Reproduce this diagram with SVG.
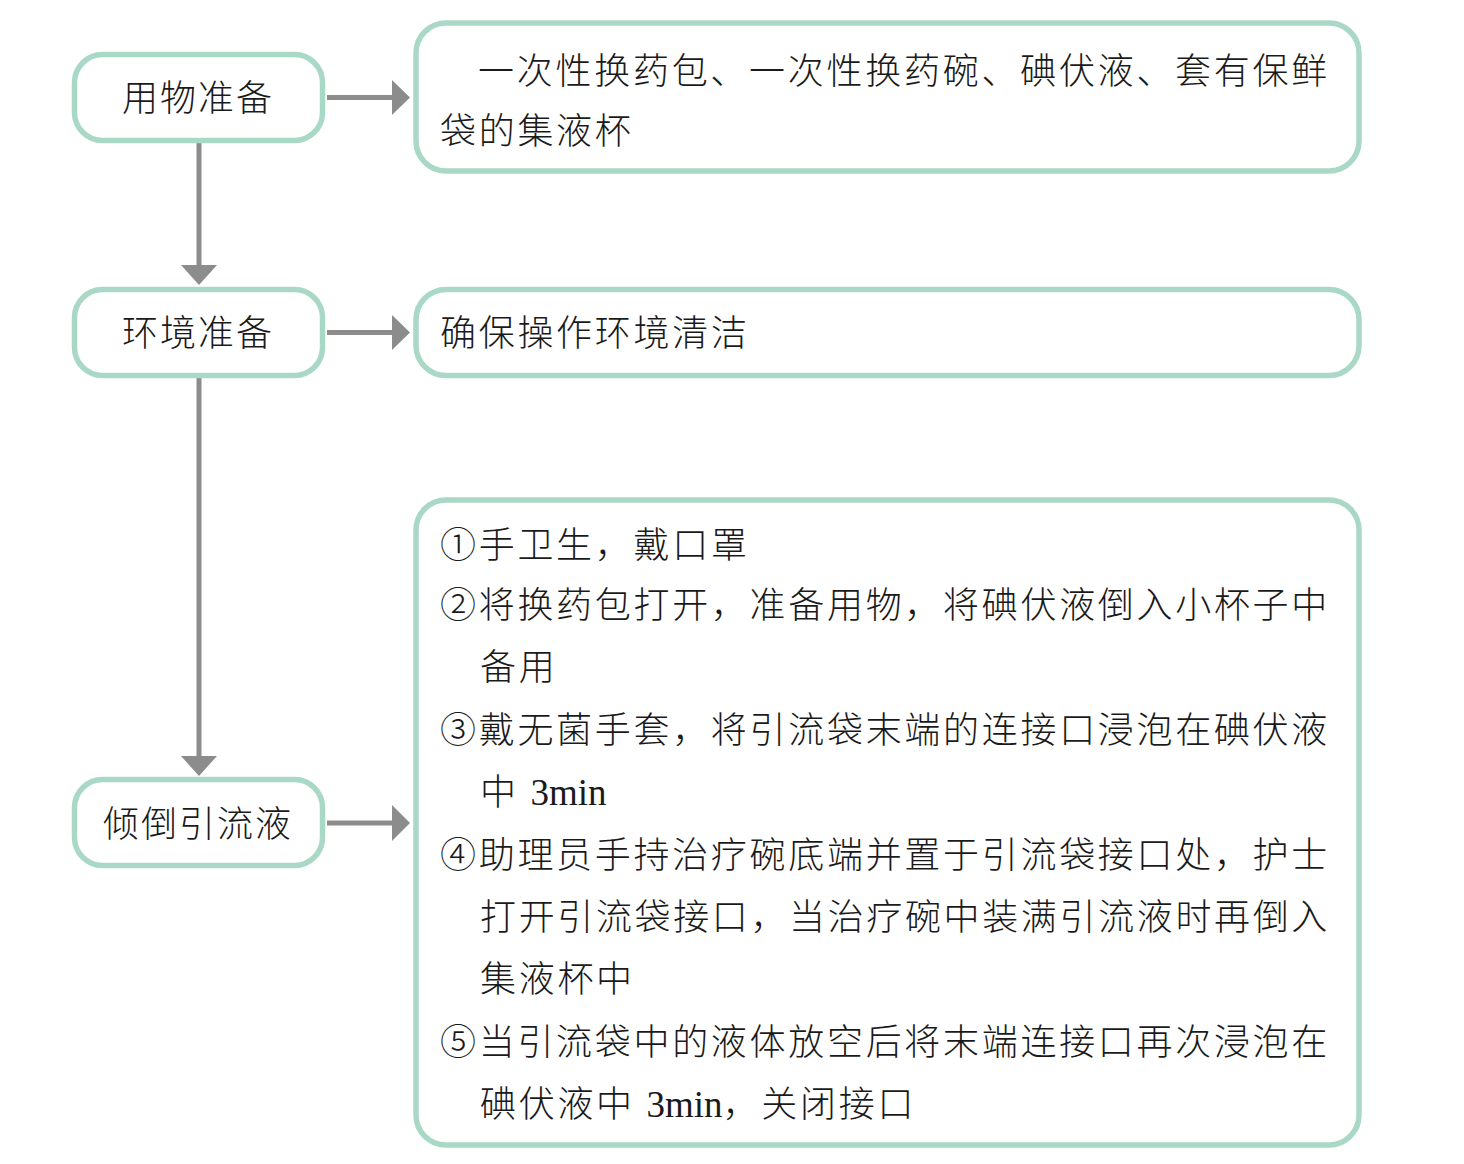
<svg xmlns="http://www.w3.org/2000/svg" width="1464" height="1164" viewBox="0 0 1464 1164">
<defs>
<style>
.box{fill:#ffffff;stroke:#a9d9c6;stroke-width:5.5}
.t{font-family:"Liberation Serif","Noto Sans CJK SC",serif;font-size:36px;font-weight:300;fill:#1a1a1a;letter-spacing:2.7px}
.lt{font-family:"Liberation Serif","Noto Sans CJK SC",serif;font-size:36px;font-weight:300;fill:#1a1a1a;letter-spacing:2px;text-anchor:middle}
.en{letter-spacing:0px;font-size:37px}
.ln{stroke:#8c8c8c;stroke-width:5;fill:none}
.ah{fill:#8c8c8c}
</style>
</defs>
<rect width="1464" height="1164" fill="#ffffff"/>
<g id="connectors">
<line class="ln" x1="327" y1="97.5" x2="394" y2="97.5"/>
<polygon class="ah" points="392,80 410,97.5 392,115"/>
<line class="ln" x1="327" y1="332.5" x2="394" y2="332.5"/>
<polygon class="ah" points="392,315 410,332.5 392,350"/>
<line class="ln" x1="327" y1="823" x2="394" y2="823"/>
<polygon class="ah" points="392,805 410,823 392,841"/>
<line class="ln" x1="199" y1="142" x2="199" y2="267"/>
<polygon class="ah" points="181,265 217,265 199,285"/>
<line class="ln" x1="199" y1="377" x2="199" y2="758"/>
<polygon class="ah" points="181,756 217,756 199,776"/>
</g>
<g id="n1">
<rect class="box" x="74.5" y="54.5" width="248" height="86" rx="28"/>
<text class="lt" x="198" y="111">用物准备</text>
</g>
<g id="n2">
<rect class="box" x="74.5" y="289.5" width="248" height="86" rx="28"/>
<text class="lt" x="198" y="346">环境准备</text>
</g>
<g id="n3">
<rect class="box" x="74.5" y="779.5" width="248" height="86" rx="28"/>
<text class="lt" x="198" y="837">倾倒引流液</text>
</g>
<g id="r1">
<rect class="box" x="416" y="23" width="943" height="148" rx="30"/>
<text class="t" x="478" y="84" textLength="852" lengthAdjust="spacing">一次性换药包、一次性换药碗、碘伏液、套有保鲜</text>
<text class="t" x="440" y="144">袋的集液杯</text>
</g>
<g id="r2">
<rect class="box" x="416" y="289.5" width="943" height="86" rx="30"/>
<text class="t" x="440" y="346">确保操作环境清洁</text>
</g>
<g id="r3">
<rect class="box" x="416" y="500" width="943" height="645" rx="30"/>
<text class="t" x="440" y="558">①手卫生，戴口罩</text>
<text class="t" x="440" y="618" textLength="890" lengthAdjust="spacing">②将换药包打开，准备用物，将碘伏液倒入小杯子中</text>
<text class="t" x="480" y="680">备用</text>
<text class="t" x="440" y="743" textLength="890" lengthAdjust="spacing">③戴无菌手套，将引流袋末端的连接口浸泡在碘伏液</text>
<text class="t" x="480" y="805">中 <tspan class="en">3min</tspan></text>
<text class="t" x="440" y="868" textLength="890" lengthAdjust="spacing">④助理员手持治疗碗底端并置于引流袋接口处，护士</text>
<text class="t" x="480" y="930" textLength="850" lengthAdjust="spacing">打开引流袋接口，当治疗碗中装满引流液时再倒入</text>
<text class="t" x="480" y="992">集液杯中</text>
<text class="t" x="440" y="1055" textLength="890" lengthAdjust="spacing">⑤当引流袋中的液体放空后将末端连接口再次浸泡在</text>
<text class="t" x="480" y="1117">碘伏液中 <tspan class="en">3min</tspan>，关闭接口</text>
</g>
</svg>
